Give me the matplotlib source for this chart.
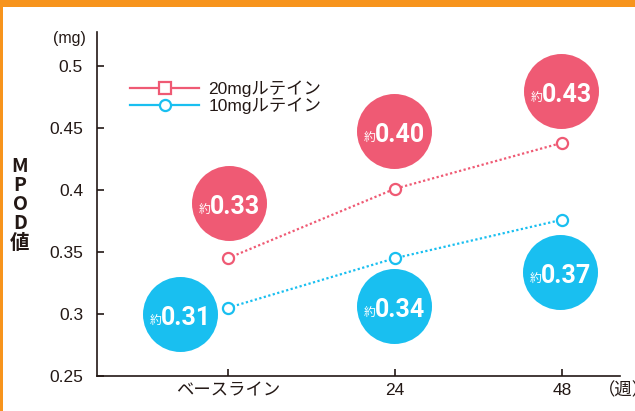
import numpy as np
import matplotlib.pyplot as plt
from matplotlib.lines import Line2D
from matplotlib.patches import Rectangle
from matplotlib.transforms import ScaledTranslation

plt.rcParams['font.family'] = ['Liberation Sans', 'Noto Sans CJK JP', 'DejaVu Sans']

# data
categories = ['ベースライン', '24', '48']
lutein20 = [0.345, 0.401, 0.438]
lutein10 = [0.305, 0.345, 0.376]
label20 = ['0.33', '0.40', '0.43']
label10 = ['0.31', '0.34', '0.37']
series_names = ['20mgルテイン', '10mgルテイン']
yticks = [0.25, 0.3, 0.35, 0.4, 0.45, 0.5]
ytick_labels = ['0.25', '0.3', '0.35', '0.4', '0.45', '0.5']

RED = '#ef5a74'
BLUE = '#19bff0'
ORANGE = '#f7941d'
INK = '#231815'

# bubble offsets from each point, in pixels (layout only)
off20 = [(1, 55), (-1, 58), (-1, 52)]
off10 = [(-48, -6), (-1, -48), (-2, -52)]

fig = plt.figure(figsize=(6.35, 4.11), dpi=100)
fig.patch.set_facecolor(ORANGE)
# white panel
fig.patches.append(Rectangle((3 / 635, -0.1), 1.2, (411 - 7) / 411 + 0.1,
                             transform=fig.transFigure, facecolor='white',
                             edgecolor='none', zorder=-1))

ax = fig.add_axes([97 / 635, 35 / 411, 523 / 635, 344 / 411])
ax.set_facecolor('none')
x = np.arange(len(categories))

ax.plot(x, lutein20, color=RED, lw=1.6, ls=(0, (1, 1.1)), marker='o', ms=8,
        mfc='white', mec=RED, mew=1.6, zorder=3)
ax.plot(x, lutein10, color=BLUE, lw=1.6, ls=(0, (1, 1.1)), marker='o', ms=8,
        mfc='white', mec=BLUE, mew=1.6, zorder=3)


def bubbles(vals, labels, offs, color):
    for xi, v, lab, (dx, dy) in zip(x, vals, labels, offs):
        tr = ax.transData + ScaledTranslation(dx / 100, dy / 100, fig.dpi_scale_trans)
        ax.scatter([xi], [v], s=(75 * 0.72) ** 2, color=color, lw=0,
                   transform=tr, zorder=2)
        ax.annotate(lab, (xi, v), xytext=((dx + 6) * 0.72, (dy - 11) * 0.72),
                    textcoords='offset points', ha='center', va='baseline',
                    color='white', fontsize=18, fontweight='bold',
                    family=['Roboto', 'DejaVu Sans'], zorder=4)
        ax.annotate('約', (xi, v), xytext=((dx - 19) * 0.72, (dy - 11) * 0.72),
                    textcoords='offset points', ha='right', va='baseline',
                    color='white', fontsize=8.5, family=['Noto Sans CJK JP'],
                    zorder=4)


bubbles(lutein20, label20, off20, RED)
bubbles(lutein10, label10, off10, BLUE)

ax.set_xlim(-0.784, 2.347)
ax.set_ylim(0.25, 0.5274)
ax.set_xticks(x)
ax.set_xticklabels(categories)
ax.set_yticks(yticks)
ax.set_yticklabels(ytick_labels)
for s in ['top', 'right']:
    ax.spines[s].set_visible(False)
for s in ['left', 'bottom']:
    ax.spines[s].set_color(INK)
    ax.spines[s].set_linewidth(1.2)
ax.tick_params(axis='both', direction='in', color=INK, width=1.2,
               labelsize=12.5, labelcolor=INK)
ax.tick_params(axis='y', length=5, pad=10)
ax.tick_params(axis='x', length=5, pad=5)

ax.annotate('(mg)', (0, 1), xycoords='axes fraction', xytext=(-8, -4.5),
            textcoords='offset points', ha='right', va='center',
            fontsize=11.5, color=INK)
ax.annotate('（週）', (1, 0), xycoords='axes fraction', xytext=(-16, -10),
            textcoords='offset points', ha='left', va='center',
            fontsize=12.5, color=INK, family=['Noto Sans CJK JP'])

fig.text(20 / 635, 1 - 205 / 411, 'M\nP\nO\nD\n値', ha='center', va='center',
         multialignment='center', fontsize=14, linespacing=1.0, color=INK,
         family=['Noto Sans CJK JP'], fontweight='bold')

handles = [
    Line2D([], [], color=RED, lw=1.6, marker='s', ms=8, mfc='white', mec=RED, mew=1.6),
    Line2D([], [], color=BLUE, lw=1.6, marker='o', ms=8, mfc='white', mec=BLUE, mew=1.6),
]
ax.legend(handles, series_names, loc='upper left',
          bbox_to_anchor=((130 - 97) / 523, (376 - 80) / 344),
          frameon=False, fontsize=12.5, handlelength=4.0, handletextpad=0.5,
          labelspacing=0.05, borderpad=0, borderaxespad=0, labelcolor=INK)

fig.savefig('out.png', dpi=100, facecolor=fig.get_facecolor())
